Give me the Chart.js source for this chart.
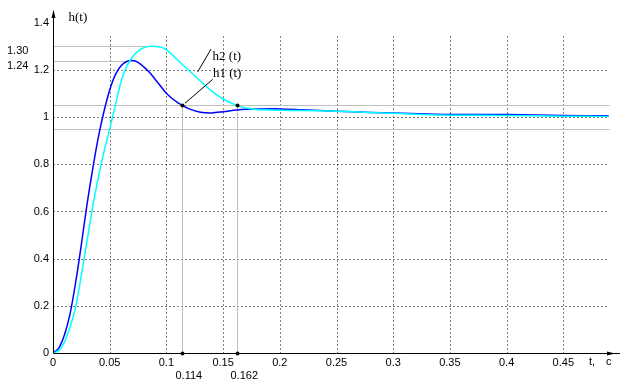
<!DOCTYPE html>
<html>
<head>
<meta charset="utf-8">
<script src="https://cdn.jsdelivr.net/npm/chart.js@4.4.1/dist/chart.umd.min.js"></script>
<style>
  html, body { margin: 0; padding: 0; background: #fff; }
  #wrap { width: 632px; height: 387px; }
</style>
</head>
<body>
<div id="wrap"><canvas id="chart"></canvas></div>
<script>
// Step responses h1(t), h2(t), time in seconds
const times = [0, 0.005, 0.01, 0.015, 0.02, 0.025, 0.03, 0.035, 0.04, 0.045, 0.05, 0.055, 0.06, 0.065,
  0.07, 0.075, 0.08, 0.085, 0.09, 0.095, 0.1, 0.105, 0.11, 0.114, 0.12, 0.13, 0.14, 0.15, 0.162, 0.17,
  0.18, 0.2, 0.22, 0.25, 0.28, 0.3, 0.33, 0.35, 0.4, 0.45, 0.49];
const h1Values = [0, 0.02, 0.075, 0.165, 0.30, 0.46, 0.63, 0.78, 0.915, 1.025, 1.115, 1.18, 1.218, 1.236,
  1.24, 1.232, 1.213, 1.19, 1.161, 1.131, 1.101, 1.079, 1.062, 1.05, 1.035, 1.021, 1.018, 1.023, 1.03, 1.033,
  1.034, 1.035, 1.031, 1.025, 1.02, 1.018, 1.013, 1.011, 1.011, 1.007, 1.006];
const h2Values = [0, 0.01, 0.045, 0.11, 0.195, 0.33, 0.475, 0.62, 0.745, 0.855, 0.95, 1.05, 1.15, 1.215,
  1.255, 1.28, 1.294, 1.30, 1.30, 1.297, 1.285, 1.265, 1.242, 1.223, 1.198, 1.153, 1.11, 1.077, 1.05, 1.039,
  1.032, 1.029, 1.028, 1.025, 1.02, 1.016, 1.01, 1.008, 1.007, 1.004, 1.003];

const xTicks = [0, 0.05, 0.1, 0.15, 0.2, 0.25, 0.3, 0.35, 0.4, 0.45];
const yTicks = [0, 0.2, 0.4, 0.6, 0.8, 1, 1.2, 1.4];
const settleBand = [0.95, 1.05];
const settleTimes = [0.114, 0.162];   // h1, h2
const gridTop = 1.35;
const gridRight = 0.49;

const h1Peak = Math.max(...h1Values);
const h2Peak = Math.max(...h2Values);
const h1PeakTime = times[h1Values.indexOf(h1Peak)];
const h2PeakTime = times[h2Values.indexOf(h2Peak)];

const sans = '"Liberation Sans", Arial, sans-serif';
const serif = '"Liberation Serif", "Times New Roman", serif';

function seg(ctx, x1, y1, x2, y2) {
  ctx.beginPath();
  ctx.moveTo(x1, y1);
  ctx.lineTo(x2, y2);
  ctx.stroke();
}

const sketch = {
  id: 'sketch',
  beforeDatasetsDraw(chart) {
    const { ctx, scales: { x, y } } = chart;
    const X = v => Math.round(x.getPixelForValue(v)) + 0.5;
    const Y = v => Math.round(y.getPixelForValue(v)) + 0.5;
    ctx.save();
    ctx.lineWidth = 1;

    // dotted grid
    ctx.strokeStyle = '#000';
    ctx.setLineDash([1, 3]);
    xTicks.filter(v => v > 0).forEach(v => seg(ctx, X(v), Y(0), X(v), Y(gridTop)));
    yTicks.filter(v => v > 0 && v <= gridTop).forEach(v => seg(ctx, X(0), Y(v), X(gridRight), Y(v)));

    // grey helper lines
    ctx.setLineDash([]);
    ctx.strokeStyle = '#c0c0c0';
    settleBand.forEach(v => seg(ctx, X(0), Y(v), X(gridRight), Y(v)));
    seg(ctx, X(0), Y(h2Peak), X(h2PeakTime), Y(h2Peak));
    seg(ctx, X(0), Y(h1Peak), X(h1PeakTime), Y(h1Peak));
    settleTimes.forEach(t => seg(ctx, X(t), Y(0), X(t), Y(settleBand[1])));
    ctx.restore();
  },
  afterDatasetsDraw(chart) {
    const { ctx, scales: { x, y } } = chart;
    const X = v => Math.round(x.getPixelForValue(v)) + 0.5;
    const Y = v => Math.round(y.getPixelForValue(v)) + 0.5;
    const x0 = X(0), y0 = Y(0);
    ctx.save();

    // axes with arrows
    ctx.strokeStyle = '#000';
    ctx.fillStyle = '#000';
    ctx.lineWidth = 1;
    seg(ctx, x0, y0, x0, chart.chartArea.top);
    seg(ctx, x0, y0, chart.chartArea.right, y0);
    ctx.beginPath();
    ctx.moveTo(x0, chart.chartArea.top - 1);
    ctx.lineTo(x0 - 2, chart.chartArea.top + 7);
    ctx.lineTo(x0 + 2, chart.chartArea.top + 7);
    ctx.closePath();
    ctx.fill();
    ctx.beginPath();
    ctx.moveTo(chart.chartArea.right - 5, y0);
    ctx.lineTo(chart.chartArea.right - 13, y0 - 2);
    ctx.lineTo(chart.chartArea.right - 13, y0 + 2);
    ctx.closePath();
    ctx.fill();

    // settling time markers
    settleTimes.forEach(t => {
      [settleBand[1], 0].forEach(v => {
        ctx.beginPath();
        ctx.arc(X(t), Y(v), 2, 0, Math.PI * 2);
        ctx.fill();
      });
    });

    // leader lines
    seg(ctx, x.getPixelForValue(0.1276), y.getPixelForValue(1.192), x.getPixelForValue(0.1393), y.getPixelForValue(1.288));
    seg(ctx, x.getPixelForValue(0.1164), y.getPixelForValue(1.059), x.getPixelForValue(0.1408), y.getPixelForValue(1.160));

    // texts
    ctx.textBaseline = 'middle';
    ctx.textAlign = 'left';
    ctx.font = '13px ' + serif;
    ctx.fillText('h(t)', x0 + 15, 18);
    ctx.fillText('h2 (t)', x.getPixelForValue(0.1407), y.getPixelForValue(1.258));
    ctx.fillText('h1 (t)', x.getPixelForValue(0.141), y.getPixelForValue(1.186));

    ctx.font = '11px ' + sans;
    ctx.fillText(h2Peak.toFixed(2), 7, Y(h2Peak) + 4);
    ctx.fillText(h1Peak.toFixed(2), 7, Y(h1Peak) + 4);
    settleTimes.forEach(t => ctx.fillText(String(t), X(t) - 7, 376));
    ctx.fillText('t,', 589, 362);
    ctx.fillText('c', 606, 362);
    ctx.restore();
  }
};

const tickFont = { family: sans, size: 11 };

new Chart(document.getElementById('chart'), {
  type: 'line',
  data: {
    datasets: [
      {
        label: 'h2 (t)',
        data: times.map((t, i) => ({ x: t, y: h2Values[i] })),
        borderColor: '#00ffff',
        borderWidth: 1.5,
        pointRadius: 0,
        tension: 0.3
      },
      {
        label: 'h1 (t)',
        data: times.map((t, i) => ({ x: t, y: h1Values[i] })),
        borderColor: '#0000ff',
        borderWidth: 1.5,
        pointRadius: 0,
        tension: 0.3
      }
    ]
  },
  options: {
    responsive: true,
    maintainAspectRatio: false,
    animation: false,
    layout: { padding: { top: 11, right: 12, left: 0, bottom: 0 } },
    plugins: { legend: { display: false }, tooltip: { enabled: false } },
    scales: {
      x: {
        type: 'linear',
        min: 0,
        max: 0.5,
        grid: { display: false, drawTicks: false },
        border: { display: false },
        ticks: { autoSkip: false, maxRotation: 0, padding: 3, color: '#000', font: tickFont, callback: v => String(v) },
        afterBuildTicks: s => { s.ticks = xTicks.map(v => ({ value: v })); },
        afterFit: s => { s.height = 34; }
      },
      y: {
        type: 'linear',
        min: 0,
        max: 1.45,
        grid: { display: false, drawTicks: false },
        border: { display: false },
        ticks: { autoSkip: false, padding: 4, color: '#000', font: tickFont, callback: v => String(v) },
        afterBuildTicks: s => { s.ticks = yTicks.map(v => ({ value: v })); },
        afterFit: s => { s.width = 53; }
      }
    }
  },
  plugins: [sketch]
});
</script>
</body>
</html>
